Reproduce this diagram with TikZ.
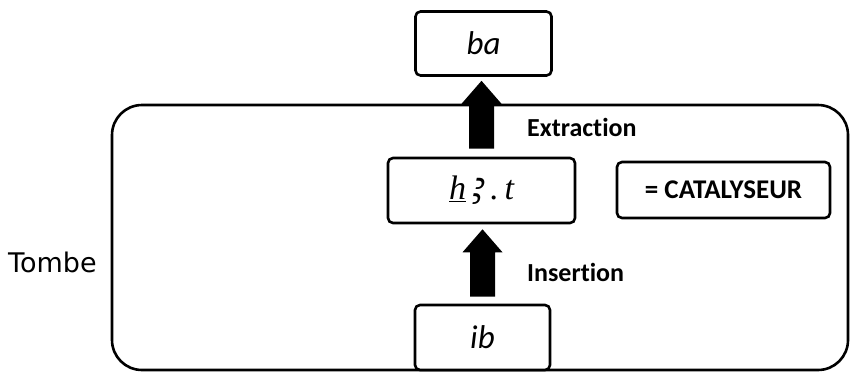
\documentclass[tikz,border=0pt]{standalone}
\usepackage{fontspec}
\setmainfont{Carlito}[Ligatures=NoCommon]
\newfontfamily\tombefont{DejaVu Sans}
\newfontfamily\serifit{Liberation Serif}
\newfontfamily\alefont{Noto Sans}
\usetikzlibrary{calc}
\newcommand{\blockarr}[2]{%
  \fill let \p1=#1, \p2=#2 in
    (\x1-12.5pt,\y1) -- (\x1+12.5pt,\y1) -- (\x1+12.5pt,\y2-23pt) -- (\x1+20pt,\y2-23pt)
    -- (\x1,\y2) -- (\x1-20pt,\y2-23pt) -- (\x1-12.5pt,\y2-23pt) -- cycle;}
\begin{document}
\begin{tikzpicture}[x=1pt,y=-1pt,
  box/.style={draw,line width=2.6pt,rounded corners=5pt,inner sep=0pt},
  lbl/.style={font=\fontsize{26}{30}\selectfont\bfseries,anchor=west,inner sep=0pt}]
\useasboundingbox (0,0) rectangle (853,373);
\draw[line width=2.6pt,rounded corners=30pt] (112,105) rectangle (848,370);
\node[box,minimum width=136pt,minimum height=64pt,font=\fontsize{33}{36}\selectfont\itshape] (ba) at (483.5,43.5) {ba};
\node[box,fill=white,minimum width=187pt,minimum height=65pt,font=\fontsize{34}{38}\selectfont\serifit\itshape] (h) at (481.5,190.5) {\underline{h}\,\raisebox{-5pt}{\alefont\itshape\fontsize{44}{44}\selectfont ꜣ}\,.\,t};
\node[box,minimum width=213pt,minimum height=56pt,font=\fontsize{27}{30}\selectfont\bfseries] (cat) at (723.5,190) {= CATALYSEUR};
\node[box,fill=white,minimum width=135pt,minimum height=65pt,font=\fontsize{33}{36}\selectfont\itshape] (ib) at (482.5,337.5) {ib};
\blockarr{([yshift=7pt]ib.north)}{([yshift=-5pt]h.south)}
\blockarr{([yshift=8pt]h.north)}{([yshift=-4pt]ba.south)}
\node[lbl] (ext) at (527,127) {Extraction};
\node[lbl] (ins) at (527,272) {Insertion};
\node[font=\fontsize{27}{30}\selectfont\tombefont,inner sep=0pt,anchor=west] (tombe) at (8,262) {Tombe};
\end{tikzpicture}
\end{document}
